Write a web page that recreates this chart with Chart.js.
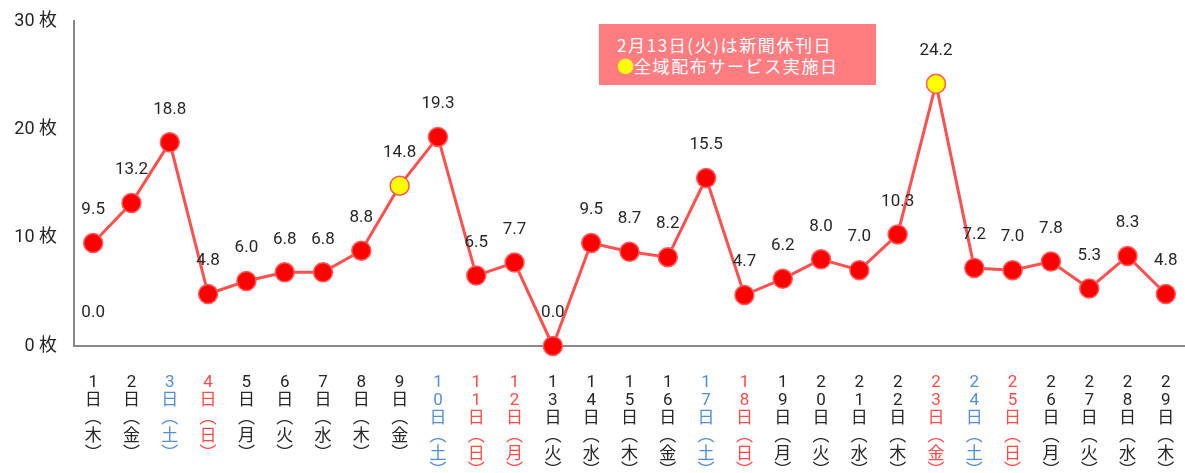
<!DOCTYPE html>
<html>
<head>
<meta charset="utf-8">
<script src="https://cdn.jsdelivr.net/npm/chart.js@4/dist/chart.umd.min.js"></script>
<style>
  html, body { margin: 0; padding: 0; background: #fff; }
  #wrap { position: relative; width: 1185px; height: 473px; overflow: hidden; }
  #note {
    position: absolute; left: 599px; top: 24px; width: 277px; height: 61px;
    background: #ff7c80; color: #fff; box-sizing: border-box;
    padding: 10px 0 0 18px; font: 17px "Noto Sans CJK JP", sans-serif; line-height: 21px;
    letter-spacing: 1.6px;
  }
  #note .dot { color: #ffff00; letter-spacing: 0; }
</style>
</head>
<body>
<div id="wrap">
  <canvas id="myChart1" width="1185" height="473"></canvas>
  <div id="note">2月13日(火)は新聞休刊日<br><span class="dot">●</span>全域配布サービス実施日</div>
</div>
<script>
const days = ['1','2','3','4','5','6','7','8','9','10','11','12','13','14','15','16','17','18','19','20','21','22','23','24','25','26','27','28','29'];
const weekdays = ['木','金','土','日','月','火','水','木','金','土','日','月','火','水','木','金','土','日','月','火','水','木','金','土','日','月','火','水','木'];
// 0 = normal, 1 = saturday, 2 = sunday / holiday
const dayType = [0,0,1,2,0,0,0,0,0,1,2,2,0,0,0,0,1,2,0,0,0,0,2,1,2,0,0,0,0];
const maisu = [9.5,13.2,18.8,4.8,6.0,6.8,6.8,8.8,14.8,19.3,6.5,7.7,0.0,9.5,8.7,8.2,15.5,4.7,6.2,8.0,7.0,10.3,24.2,7.2,7.0,7.8,5.3,8.3,4.8];
const zenikiDays = [8, 22];
const extraLabel = [0.0];
const yTicks = [0, 10, 20, 30];

const dayColors = ['#262626', '#558ed5', '#ff4b4b'];
const fontFam = 'Roboto, "Noto Sans CJK JP", sans-serif';

const labels = days.map(function(d, i) {
    return d.split('').concat(['日', '︵', weekdays[i], '︶']);
});

const extraData = maisu.map(function(v, i) { return i < extraLabel.length ? extraLabel[i] : null; });

const labelPlugin = {
    id: 'valueLabels',
    afterDatasetsDraw(chart) {
        const ctx = chart.ctx;
        ctx.save();
        ctx.font = '17px ' + fontFam;
        ctx.fillStyle = '#262626';
        ctx.textAlign = 'center';
        ctx.textBaseline = 'middle';
        chart.data.datasets.forEach(function(ds, di) {
            const meta = chart.getDatasetMeta(di);
            meta.data.forEach(function(pt, i) {
                const v = ds.data[i];
                if (v === null || v === undefined) return;
                ctx.fillText(v.toFixed(1), pt.x, pt.y - 33);
            });
        });
        ctx.restore();
    }
};

const ctx = document.getElementById('myChart1').getContext('2d');
const myChart1 = new Chart(ctx, {
    type: 'line',
    data: {
        labels: labels,
        datasets: [
            {
                label: '枚数',
                data: maisu,
                borderColor: '#ff5050',
                borderWidth: 3,
                pointRadius: 9.5,
                pointBorderWidth: 1.5,
                pointBorderColor: '#ff5a5a',
                pointBackgroundColor: maisu.map(function(v, i) { return zenikiDays.includes(i) ? '#ffff00' : '#ff0000'; }),
                tension: 0,
                clip: false
            },
            {
                label: 'extra',
                data: extraData,
                showLine: false,
                pointRadius: 0,
                clip: false
            }
        ]
    },
    plugins: [labelPlugin],
    options: {
        responsive: false,
        animation: false,
        layout: { autoPadding: false, padding: { top: 21, right: -3, left: 0, bottom: 0 } },
        plugins: {
            legend: { display: false },
            tooltip: { enabled: false }
        },
        scales: {
            x: {
                offset: true,
                grid: { display: false, drawTicks: false, offset: true },
                border: { display: true, color: '#898989', width: 2 },
                ticks: {
                    autoSkip: false,
                    maxRotation: 0,
                    padding: 28,
                    font: { size: 17, family: fontFam, lineHeight: 1.05 },
                    color: function(c) { return dayColors[dayType[c.index]]; }
                },
                afterFit: function(scale) {
                    scale.height = 127;
                    scale.paddingLeft = 0;
                    scale.paddingRight = 0;
                }
            },
            y: {
                min: 0,
                max: 30,
                afterBuildTicks: function(scale) { scale.ticks = yTicks.map(function(v) { return { value: v }; }); },
                grid: { display: false, drawTicks: false },
                border: { display: true, color: '#898989', width: 2 },
                ticks: {
                    padding: 17,
                    color: '#262626',
                    font: { size: 18, family: fontFam },
                    callback: function(v) { return v + ' 枚'; }
                },
                afterFit: function(scale) {
                    scale.width = 74;
                    scale.paddingTop = 0;
                    scale.paddingBottom = 0;
                }
            }
        }
    }
});
</script>
</body>
</html>
